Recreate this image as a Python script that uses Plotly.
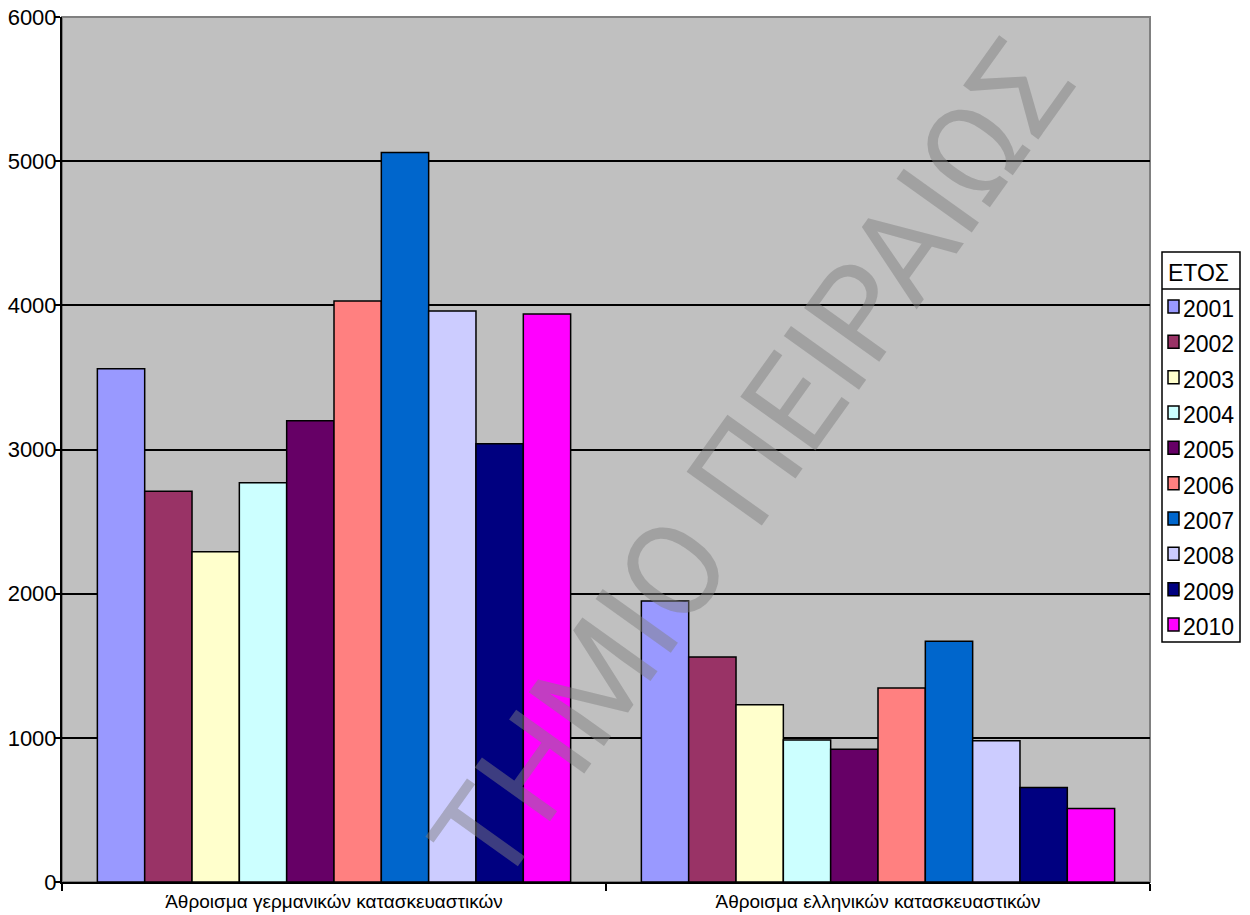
import plotly.graph_objects as go

# Category labels (x axis)
categories = ["Άθροισμα γερμανικών κατασκευαστικών", "Άθροισμα ελληνικών κατασκευαστικών"]

# Years shown in the legend, with their bar colours
years = ["2001", "2002", "2003", "2004", "2005", "2006", "2007", "2008", "2009", "2010"]
colors = ["#9999FF", "#993366", "#FFFFCC", "#CCFFFF", "#660066",
          "#FF8080", "#0066CC", "#CCCCFF", "#000080", "#FF00FF"]

# Totals per year: German and Greek construction firms
german_totals = [3560, 2710, 2290, 2770, 3200, 4030, 5060, 3960, 3040, 3940]
greek_totals = [1950, 1560, 1230, 985, 920, 1345, 1670, 980, 655, 510]

y_ticks = [0, 1000, 2000, 3000, 4000, 5000, 6000]

W, H = 1250, 915
ML, MR, MT, MB = 62, 100, 17, 33
PW, PH = W - ML - MR, H - MT - MB


def px_x(px):
    """Page pixel column -> paper x."""
    return (px - ML) / PW


def px_y(py):
    """Page pixel row -> paper y."""
    return (H - MB - py) / PH


fig = go.Figure()
for i, year in enumerate(years):
    fig.add_trace(go.Bar(
        x=categories,
        y=[german_totals[i], greek_totals[i]],
        name=year,
        marker=dict(color=colors[i], line=dict(color="black", width=1.5)),
        showlegend=False,
    ))

font_main = "Liberation Sans, Arial, sans-serif"

fig.update_layout(
    width=W, height=H,
    margin=dict(l=ML, r=MR, t=MT, b=MB, autoexpand=False),
    paper_bgcolor="white",
    plot_bgcolor="#C0C0C0",
    barmode="group",
    bargap=0.13,
    bargroupgap=0,
    font=dict(family=font_main, color="black"),
    xaxis=dict(
        type="category",
        showline=True, linecolor="black", linewidth=2,
        ticks="outside", tickson="boundaries", ticklen=7, tickcolor="black", tickwidth=2,
        showgrid=False,
        tickfont=dict(size=19, family=font_main),
        ticklabelstandoff=1,
    ),
    yaxis=dict(
        range=[0, 6000],
        tickvals=y_ticks,
        showline=True, linecolor="black", linewidth=2,
        ticks="outside", ticklen=5, tickcolor="black", tickwidth=2,
        showgrid=True, gridcolor="black", gridwidth=1.5,
        tickfont=dict(size=22, family=font_main),
        ticklabelstandoff=-6,
        zeroline=False,
    ),
)

# Grey frame on the top and right of the plot area
fig.add_shape(type="rect", xref="paper", yref="paper", x0=0, y0=0, x1=1, y1=1,
              line=dict(color="#808080", width=2), layer="below")

# Legend box: title "ΕΤΟΣ" above a rule, then one swatch per year
LEG_L, LEG_R, LEG_T, LEG_B = 1162, 1240, 252, 642
fig.add_shape(type="rect", xref="paper", yref="paper",
              x0=px_x(LEG_L), x1=px_x(LEG_R), y0=px_y(LEG_B), y1=px_y(LEG_T),
              line=dict(color="black", width=1.5), fillcolor="white")
fig.add_shape(type="line", xref="paper", yref="paper",
              x0=px_x(LEG_L), x1=px_x(LEG_R), y0=px_y(289), y1=px_y(289),
              line=dict(color="black", width=1.5))
fig.add_annotation(text="ΕΤΟΣ", xref="paper", yref="paper",
                   x=px_x(1166), y=px_y(272.5), xanchor="left", yanchor="middle",
                   showarrow=False, font=dict(size=23, family=font_main))

ROW0, ROW_STEP = 308, 35.33
for i, year in enumerate(years):
    cy = ROW0 + i * ROW_STEP
    fig.add_shape(type="rect", xref="paper", yref="paper",
                  x0=px_x(1168), x1=px_x(1179), y0=px_y(cy + 5), y1=px_y(cy - 8),
                  line=dict(color="black", width=1.5), fillcolor=colors[i])
    fig.add_annotation(text=year, xref="paper", yref="paper",
                       x=px_x(1181), y=px_y(cy + 1), xanchor="left", yanchor="middle",
                       showarrow=False, font=dict(size=23, family=font_main))

# Faint diagonal watermark
fig.add_annotation(
    text="ΤΗΜΙΟ ΠΕΙΡΑΙΩΣ",
    xref="paper", yref="paper",
    x=px_x(752), y=px_y(462),
    xanchor="center", yanchor="middle",
    textangle=-54.4, showarrow=False,
    font=dict(size=130, family="Roboto, sans-serif", color="rgba(128,128,128,0.48)"),
)

fig.write_html("out.html")
